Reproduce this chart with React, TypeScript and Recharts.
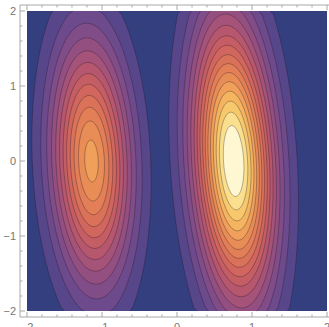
import React from 'react';
import { ComposedChart, Scatter, XAxis, YAxis } from 'recharts';

// frame ticks
const MAJOR_TICKS = [-2, -1, 0, 1, 2];
const TICK_LABELS = ['−2', '−1', '0', '1', '2'];
const MINOR_TICKS = [-1.8, -1.6, -1.4, -1.2, -0.8, -0.6, -0.4, -0.2, 0.2, 0.4, 0.6, 0.8, 1.2, 1.4, 1.6, 1.8];
const ALL_TICKS = [...MAJOR_TICKS, ...MINOR_TICKS].sort((a, b) => a - b);

// contour half-widths at y = 0, outermost level first
const leftWidths = [0.79, 0.672, 0.593, 0.53, 0.474, 0.424, 0.376, 0.33, 0.282, 0.231, 0.172, 0.09];
const rightWidths = [0.849, 0.739, 0.665, 0.608, 0.56, 0.517, 0.477, 0.441, 0.405, 0.371, 0.337, 0.302, 0.266, 0.228, 0.186, 0.135];

// blob centre, height / width ratio, lean of the long axis
const leftBlob = { cx: -1.14, aspect: 3.1, lean: -0.037 };
const rightBlob = { cx: 0.755, aspect: 3.5, lean: -0.055 };

// fill colour per contour level (0 = background)
const levelColors = [
  '#343f80', '#58468a', '#6d4a8b', '#814d88', '#944f81', '#a65379', '#b6576e', '#c45e64',
  '#d0665d', '#da7259', '#e27f57', '#e98d57', '#f0a05a', '#f4b460', '#f7c96c', '#fae08e', '#fff7d2',
];

const FRAME = '#a8a8a8';
const LABEL = '#777777';

const plotBox = [
  { x: -2, y: -2 }, { x: 2, y: -2 }, { x: 2, y: 2 }, { x: -2, y: 2 }, { x: -2, y: -2 },
];

const ellipse = (cx: number, w: number, aspect: number, lean: number) => {
  const pts: { x: number; y: number }[] = [];
  const h = w * aspect;
  const n = 96;
  for (let i = 0; i <= n; i++) {
    const t = (i / n) * Math.PI * 2;
    const yRaw = h * Math.sin(t);
    pts.push({ x: cx + w * Math.cos(t) + lean * yRaw, y: Math.max(-2, Math.min(2, yRaw)) });
  }
  return pts;
};

const contourLine = (fill: string, stroked: boolean) => (props: any) => {
  const pts: { x: number; y: number }[] = props.points || [];
  if (!pts.length) return <g />;
  const fillD = pts.map((p, i) => `${i ? 'L' : 'M'}${p.x},${p.y}`).join('') + 'Z';
  let strokeD = '';
  let penDown = false;
  for (let i = 1; i < pts.length; i++) {
    const a = pts[i - 1];
    const b = pts[i];
    if (Math.abs(a.y - b.y) < 1e-6) {
      penDown = false;
      continue;
    }
    if (!penDown) {
      strokeD += `M${a.x},${a.y}`;
      penDown = true;
    }
    strokeD += `L${b.x},${b.y}`;
  }
  return (
    <g>
      <path d={fillD} fill={fill} stroke="none" />
      {stroked && <path d={strokeD} fill="none" stroke="#1b1420" strokeOpacity={0.45} strokeWidth={0.7} />}
    </g>
  );
};

const noDot = () => <g />;

const BottomTick = (props: any) => {
  const { x, y, payload } = props;
  const i = MAJOR_TICKS.indexOf(payload.value);
  return (
    <g>
      <line x1={x} x2={x} y1={y} y2={y - (i >= 0 ? 5 : 2.5)} stroke={FRAME} />
      {i >= 0 && (
        <text x={x} y={y + 14} textAnchor="middle" fontSize={11} fill={LABEL} fontFamily="Liberation Sans, sans-serif">
          {TICK_LABELS[i]}
        </text>
      )}
    </g>
  );
};

const TopTick = (props: any) => {
  const { x, y, payload } = props;
  const major = MAJOR_TICKS.indexOf(payload.value) >= 0;
  return <line x1={x} x2={x} y1={y} y2={y + (major ? 5 : 2.5)} stroke={FRAME} />;
};

const LeftTick = (props: any) => {
  const { x, y, payload } = props;
  const i = MAJOR_TICKS.indexOf(payload.value);
  return (
    <g>
      <line x1={x} x2={x + (i >= 0 ? 5 : 2.5)} y1={y} y2={y} stroke={FRAME} />
      {i >= 0 && (
        <text x={x - 4} y={y + 4} textAnchor="end" fontSize={11} fill={LABEL} fontFamily="Liberation Sans, sans-serif">
          {TICK_LABELS[i]}
        </text>
      )}
    </g>
  );
};

const X_DOMAIN: [number, number] = [-2.0933, 2.0933];
const Y_DOMAIN: [number, number] = [-2.08, 2.08];

export default function App() {
  return (
    <div style={{ position: 'absolute', left: 0, top: 0, width: 329, height: 327, overflow: 'hidden', background: '#fff' }}>
      <ComposedChart width={340} height={330} margin={{ top: 4, right: 6, bottom: 12, left: 19 }}>
        <XAxis
          xAxisId="b"
          type="number"
          dataKey="x"
          domain={X_DOMAIN}
          allowDataOverflow
          ticks={ALL_TICKS}
          interval={0}
          height={1}
          tickSize={0}
          tickMargin={0}
          tickLine={false}
          stroke={FRAME}
          tick={<BottomTick />}
        />
        <XAxis
          xAxisId="t"
          orientation="top"
          type="number"
          dataKey="x"
          domain={X_DOMAIN}
          allowDataOverflow
          ticks={ALL_TICKS}
          interval={0}
          height={1}
          tickSize={0}
          tickMargin={0}
          tickLine={false}
          stroke={FRAME}
          tick={<TopTick />}
        />
        <YAxis
          yAxisId="l"
          type="number"
          dataKey="y"
          domain={Y_DOMAIN}
          allowDataOverflow
          ticks={ALL_TICKS}
          interval={0}
          width={1}
          tickSize={0}
          tickMargin={0}
          tickLine={false}
          stroke={FRAME}
          tick={<LeftTick />}
        />
        <Scatter
          xAxisId="b"
          yAxisId="l"
          data={plotBox}
          shape={noDot}
          line={contourLine(levelColors[0], false)}
          isAnimationActive={false}
        />
        {leftWidths.map((w, k) => (
          <Scatter
            key={`l${k}`}
            xAxisId="b"
            yAxisId="l"
            data={ellipse(leftBlob.cx, w, leftBlob.aspect, leftBlob.lean)}
            shape={noDot}
            line={contourLine(levelColors[k + 1], true)}
            isAnimationActive={false}
          />
        ))}
        {rightWidths.map((w, k) => (
          <Scatter
            key={`r${k}`}
            xAxisId="b"
            yAxisId="l"
            data={ellipse(rightBlob.cx, w, rightBlob.aspect, rightBlob.lean)}
            shape={noDot}
            line={contourLine(levelColors[k + 1], true)}
            isAnimationActive={false}
          />
        ))}
      </ComposedChart>
    </div>
  );
}
